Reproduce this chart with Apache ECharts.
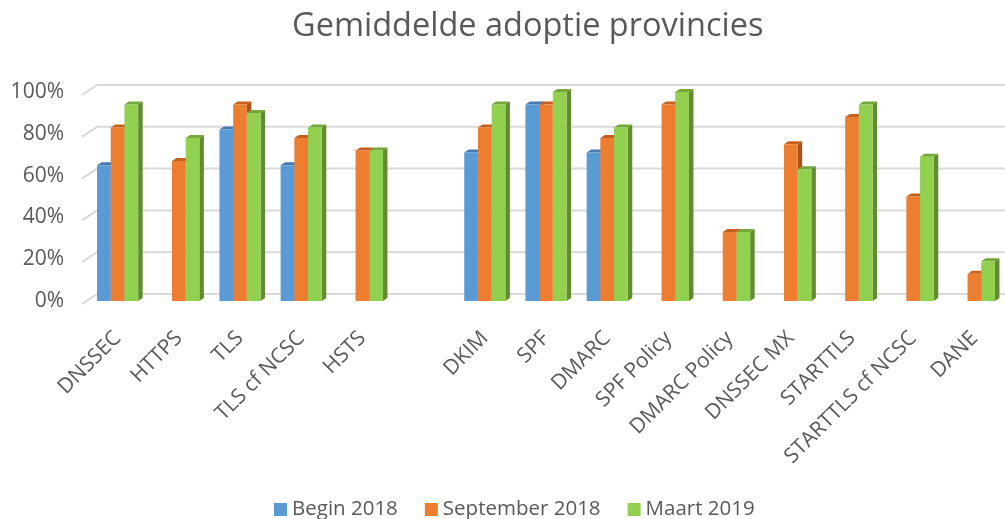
<!DOCTYPE html>
<html>
<head>
<meta charset="utf-8">
<script src="https://cdn.jsdelivr.net/npm/echarts@6/dist/echarts.min.js"></script>
<style>
  html, body { margin: 0; padding: 0; background: #fff; }
  #chart { width: 1005px; height: 519px; }
</style>
</head>
<body>
<div id="chart"></div>
<script>
// categorieën (lege plek tussen HSTS en DKIM zoals in het origineel)
const categories = [
    'DNSSEC', 'HTTPS', 'TLS', 'TLS cf NCSC', 'HSTS', '',
    'DKIM', 'SPF', 'DMARC', 'SPF Policy', 'DMARC Policy',
    'DNSSEC MX', 'STARTTLS', 'STARTTLS cf NCSC', 'DANE'
];
const seriesNames = ['Begin 2018', 'September 2018', 'Maart 2019'];

// waarden in procenten, null = geen meting
const begin2018 = [65, null, 82, 65, null, null, 71, 94, 71, null, null, null, null, null, null];
const sept2018 = [83, 67, 94, 78, 72, null, 83, 94, 78, 94, 33, 75, 88, 50, 13];
const maart2019 = [94, 78, 90, 83, 72, null, 94, 100, 83, 100, 33, 63, 94, 69, 19];

const yTicks = [0, 20, 40, 60, 80, 100];

// kleuren: voorkant, bovenkant, zijkant
const palette = [
    { front: '#5b9bd5', top: '#4679ad', side: '#3f6e9e' },
    { front: '#ed7d31', top: '#c5601c', side: '#a9521a' },
    { front: '#92d050', top: '#74a83a', side: '#5f8c30' }
];

const textColor = '#595959';
const fontFamily = 'Open Sans';
const barRatio = 0.224;   // breedte van één staaf t.o.v. categorie
const depthX = 4.5;
const depthY = 3;

function makeBarRenderer(idx) {
    return function (params, api) {
        const ci = api.value(0);
        const v = api.value(1);
        if (v == null || isNaN(v)) return;
        const top = api.coord([ci, v]);
        const base = api.coord([ci, 0]);
        const w = api.size([1, 0])[0] * barRatio;
        const x = top[0] + (idx - 1.5) * w;
        const yt = top[1];
        const yb = base[1];
        const c = palette[idx];
        return {
            type: 'group',
            children: [
                {
                    type: 'polygon',
                    shape: { points: [[x + w, yt], [x + w + depthX, yt - depthY], [x + w + depthX, yb - depthY], [x + w, yb]] },
                    style: { fill: c.side }
                },
                {
                    type: 'polygon',
                    shape: { points: [[x, yt], [x + w, yt], [x + w + depthX, yt - depthY], [x + depthX, yt - depthY]] },
                    style: { fill: c.top }
                },
                {
                    type: 'rect',
                    shape: { x: x, y: yt, width: w, height: yb - yt },
                    style: { fill: c.front }
                }
            ]
        };
    };
}

// achterwand-rasterlijnen met schuine zijwand
function renderWall(params, api) {
    const v = api.value(0);
    const p = api.coord([0, v]);
    const cs = params.coordSys;
    const y = p[1];
    return {
        type: 'polyline',
        shape: { points: [[cs.x - 5, y + 3], [cs.x + 10, y - 7], [cs.x + cs.width, y - 7]] },
        style: { stroke: '#d9d9d9', lineWidth: 2, fill: null }
    };
}

const allValues = [begin2018, sept2018, maart2019];

const barSeries = allValues.map((vals, idx) => ({
    name: seriesNames[idx],
    type: 'custom',
    renderItem: makeBarRenderer(idx),
    data: vals.map((v, i) => [i, v]),
    encode: { x: 0, y: 1 },
    itemStyle: { color: palette[idx].front },
    clip: false,
    z: 3 + idx
}));

const chart = echarts.init(document.getElementById('chart'));
chart.setOption({
    animation: false,
    title: {
        text: 'Gemiddelde adoptie provincies',
        left: 287,
        top: 5,
        textStyle: { color: textColor, fontSize: 32.5, fontWeight: 'normal', fontFamily: fontFamily }
    },
    legend: {
        data: seriesNames,
        top: 494,
        left: 269,
        icon: 'rect',
        itemWidth: 13,
        itemHeight: 13,
        itemGap: 27,
        textStyle: { color: textColor, fontSize: 20.5, fontFamily: fontFamily }
    },
    grid: { left: 87, right: 0, top: 92, bottom: 218 },
    xAxis: {
        type: 'category',
        data: categories,
        axisLine: { show: false },
        axisTick: { show: false },
        axisLabel: {
            interval: 0,
            rotate: 45,
            margin: 34,
            color: textColor,
            fontSize: 21,
            fontFamily: fontFamily
        }
    },
    yAxis: {
        type: 'value',
        min: 0,
        max: 100,
        interval: 20,
        splitLine: { show: false },
        axisLine: { show: false },
        axisTick: { show: false },
        axisLabel: {
            formatter: '{value}%',
            margin: 23,
            padding: [8, 0, 0, 0],
            color: textColor,
            fontSize: 21,
            fontFamily: fontFamily
        }
    },
    series: [
        {
            name: 'wand',
            type: 'custom',
            renderItem: renderWall,
            data: yTicks.map(t => [t]),
            encode: { y: 0 },
            silent: true,
            clip: false,
            z: 1
        }
    ].concat(barSeries)
});
</script>
</body>
</html>
